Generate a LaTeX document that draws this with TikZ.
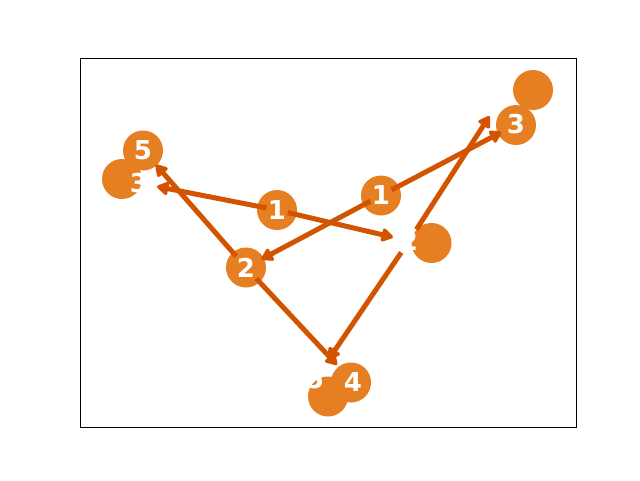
\documentclass[tikz,border=0pt]{standalone}
\usepackage{fontspec}
\setmainfont{DejaVu Sans}
\usetikzlibrary{arrows.meta}
\definecolor{dotorange}{HTML}{E67E22}
\definecolor{linkorange}{HTML}{D35400}
\pgfdeclarelayer{back}
\pgfdeclarelayer{mid}
\pgfsetlayers{back,mid,main}

\begin{document}
\begin{tikzpicture}[x=1pt, y=-1pt,
    dot/.style={fill=dotorange},
    lbl/.style={text=white, font=\fontsize{26}{30}\selectfont\bfseries,
        minimum width=18pt, minimum height=20pt, inner sep=0pt},
    link/.style={draw=linkorange, line width=5pt,
        -{Triangle[length=13pt,width=15pt,round]}, shorten <=1.5pt, shorten >=8pt}]
\useasboundingbox (0,0) rectangle (640,480);
% Frame
\draw[line width=1pt] (80.5,58.5) rectangle (576,427.5);

% Markers
\begin{pgfonlayer}{back}
\fill[dot] (143,150.5) circle (20);
\fill[dot] (122,179) circle (20);
\fill[dot] (277,210) circle (20);
\fill[dot] (246,267.5) circle (20);
\fill[dot] (381,195.5) circle (20);
\fill[dot] (431.5,243) circle (20);
\fill[dot] (516,125) circle (20);
\fill[dot] (533,90) circle (20);
\fill[dot] (351,382.5) circle (20);
\fill[dot] (328,396.5) circle (20);
\end{pgfonlayer}

% First tree
\node[lbl] (a1) at (277,210) {1};
\node[lbl] (a2) at (409,241) {2};
\node[lbl] (a3) at (139,183) {3};
\coordinate (a4) at (493.8,109.4);
\node[lbl] (a5) at (315,379.5) {5};

% Second tree
\node[lbl] (b1) at (381,195.5) {1};
\node[lbl] (b2) at (246,267.5) {2};
\node[lbl] (b3) at (516,124.5) {3};
\node[lbl] (b4) at (353,382) {4};
\node[lbl] (b5) at (143,150) {5};

% Links
\begin{pgfonlayer}{mid}
\draw[link, shorten >=7pt] (a1) -- (a2);
\draw[link, shorten >=9pt] (a1) -- (a3);
\draw[link] (a2) -- (a4);
\draw[link, shorten >=12pt] (a2) -- (a5);
\draw[link, shorten >=7pt] (b1) -- (b2);
\draw[link, shorten >=6pt] (b1) -- (b3);
\draw[link, shorten >=10pt] (b2) -- (b4);
\draw[link, shorten >=6pt] (b2) -- (b5);
\end{pgfonlayer}
\end{tikzpicture}
\end{document}
